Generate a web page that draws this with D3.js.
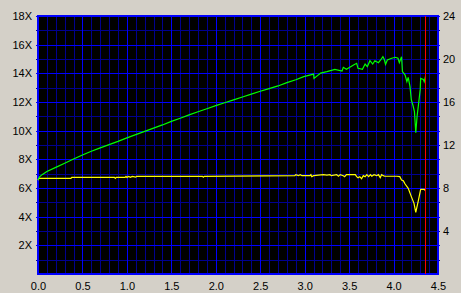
<!DOCTYPE html>
<html>
<head>
<meta charset="utf-8">
<script src="https://cdn.jsdelivr.net/npm/d3@7/dist/d3.min.js"></script>
<style>
  body { margin: 0; background: #d4d0c8; }
  svg { display: block; }
  .lbl text { font-family: "Liberation Sans", Arial, sans-serif; font-size: 11px; fill: #000; }
</style>
</head>
<body>
<div id="chart"></div>
<script>
// transfer speed (green), position in GB
var speedPos = [0, 0.02, 0.05, 0.1, 0.2, 0.3, 0.4, 0.5, 0.6, 0.7, 0.8, 0.9, 1.0, 1.1, 1.2, 1.3, 1.4,
  1.5, 1.6, 1.7, 1.8, 1.9, 2.0, 2.1, 2.2, 2.3, 2.4, 2.5, 2.6, 2.7, 2.8, 2.9, 2.99, 3.10, 3.105,
  3.18, 3.25, 3.34, 3.42, 3.435, 3.47, 3.55, 3.585, 3.60, 3.65, 3.68, 3.705, 3.735, 3.765, 3.79,
  3.83, 3.855, 3.88, 3.895, 3.91, 3.93, 3.98, 4.02, 4.05, 4.065, 4.09, 4.10, 4.13, 4.15, 4.165,
  4.185, 4.20, 4.22, 4.235, 4.25, 4.265, 4.28, 4.30, 4.305, 4.335, 4.345, 4.36];
var speed = [6.56, 6.8, 6.95, 7.15, 7.44, 7.73, 8.02, 8.3, 8.56, 8.8, 9.03, 9.25, 9.5, 9.72, 9.95, 10.18, 10.4,
  10.65, 10.87, 11.1, 11.32, 11.53, 11.75, 11.95, 12.15, 12.35, 12.55, 12.75, 12.93, 13.12, 13.35, 13.55, 13.77, 13.95, 13.65,
  14.02, 14.12, 14.28, 14.16, 14.42, 14.28, 14.58, 14.7, 14.35, 14.28, 14.65, 14.47, 14.88, 14.65, 14.88,
  14.74, 14.93, 15.16, 14.98, 14.63, 14.93, 15.05, 15.12, 15.05, 14.74, 15.16, 14.12, 13.88, 13.42, 13.72,
  13.07, 12.14, 11.72, 11.33, 9.86, 11.02, 11.79, 12.88, 13.65, 13.58, 13.42, 13.81];

// second trace (yellow)
var trace2Pos = [0, 0.01, 0.37, 0.38, 0.86, 0.87, 0.88, 0.98, 0.99, 1.0, 1.02, 1.04, 1.06, 1.1, 1.11,
  1.85, 1.86, 1.87, 2.89, 2.9, 2.93, 2.95, 2.97, 3.06, 3.07, 3.08, 3.1, 3.21, 3.25, 3.285, 3.3, 3.36,
  3.38, 3.40, 3.435, 3.45, 3.47, 3.51, 3.57, 3.585, 3.6, 3.62, 3.64, 3.66, 3.68, 3.70, 3.72, 3.74,
  3.755, 3.78, 3.81, 3.83, 3.85, 3.865, 3.885, 3.90, 4.035, 4.07, 4.09, 4.11, 4.13, 4.165, 4.20,
  4.23, 4.25, 4.28, 4.305, 4.345, 4.36];
var trace2 = [6.55, 6.67, 6.67, 6.74, 6.74, 6.67, 6.74, 6.74, 6.81, 6.74, 6.81, 6.74, 6.81, 6.76, 6.81,
  6.81, 6.76, 6.81, 6.86, 6.93, 6.86, 6.93, 6.86, 6.86, 6.93, 6.79, 6.86, 6.93, 6.9, 6.93, 6.86, 6.93,
  6.82, 6.93, 6.86, 6.79, 6.93, 6.93, 6.93, 6.79, 6.72, 6.79, 6.65, 6.86, 6.79, 6.93, 6.79, 6.93,
  6.82, 6.93, 6.86, 6.93, 6.72, 6.93, 6.86, 6.82, 6.82, 6.79, 6.56, 6.5, 6.28, 5.98, 5.4,
  4.93, 4.3, 5.16, 5.91, 5.91, 5.81];

var endMark = 4.357;

var xTicks = [0, 0.5, 1.0, 1.5, 2.0, 2.5, 3.0, 3.5, 4.0, 4.5];
var xMinor = [0.1, 0.2, 0.3, 0.4, 0.6, 0.7, 0.8, 0.9, 1.1, 1.2, 1.3, 1.4, 1.6, 1.7, 1.8, 1.9,
  2.1, 2.2, 2.3, 2.4, 2.6, 2.7, 2.8, 2.9, 3.1, 3.2, 3.3, 3.4, 3.6, 3.7, 3.8, 3.9, 4.1, 4.2, 4.3, 4.4];
var yTicks = [2, 4, 6, 8, 10, 12, 14, 16, 18];
var yMinor = [1, 3, 5, 7, 9, 11, 13, 15, 17];
var yRightTicks = [4, 8, 12, 16, 20, 24];

var margin = {top: 16, right: 23, bottom: 19, left: 38},
    width = 400,
    height = 258;

var x = d3.scaleLinear().domain([0, 4.5]).range([0, width]);
var y = d3.scaleLinear().domain([0, 18]).range([height, 0]);
var y2 = d3.scaleLinear().domain([0, 24]).range([height, 0]);

var svg = d3.select("#chart").append("svg")
    .attr("width", 461)
    .attr("height", 293)
  .append("g")
    .attr("transform", "translate(" + margin.left + "," + margin.top + ")");

svg.append("rect")
  .attr("width", width)
  .attr("height", height)
  .attr("fill", "#000");

// minor grid
svg.selectAll(".vminor").data(xMinor).enter().append("line")
  .attr("x1", function(d) { return Math.round(x(d)) + 0.5; })
  .attr("x2", function(d) { return Math.round(x(d)) + 0.5; })
  .attr("y1", 0).attr("y2", height)
  .attr("stroke", "#000090");
svg.selectAll(".hminor").data(yMinor).enter().append("line")
  .attr("x1", -2).attr("x2", width + 2)
  .attr("y1", function(d) { return Math.round(y(d)) + 0.5; })
  .attr("y2", function(d) { return Math.round(y(d)) + 0.5; })
  .attr("stroke", "#000090");

// major grid
svg.selectAll(".vmajor").data(xTicks).enter().append("line")
  .attr("x1", function(d) { return Math.round(x(d)) + 0.5; })
  .attr("x2", function(d) { return Math.round(x(d)) + 0.5; })
  .attr("y1", 0).attr("y2", height)
  .attr("stroke", "#0000ff");
svg.selectAll(".hmajor").data(yTicks).enter().append("line")
  .attr("x1", -2).attr("x2", width + 2)
  .attr("y1", function(d) { return Math.round(y(d)) + 0.5; })
  .attr("y2", function(d) { return Math.round(y(d)) + 0.5; })
  .attr("stroke", "#0000ff");

// frame
svg.append("rect")
  .attr("x", 0).attr("y", 0)
  .attr("width", width).attr("height", height)
  .attr("fill", "none")
  .attr("stroke", "#0000ff")
  .attr("stroke-width", 2);

var line = d3.line()
  .x(function(d) { return x(d[0]); })
  .y(function(d) { return y(d[1]); });

svg.append("path")
  .datum(trace2Pos.map(function(p, i) { return [p, trace2[i]]; }))
  .attr("d", line)
  .attr("fill", "none")
  .attr("stroke", "#ffff00")
  .attr("stroke-width", 1.2);

svg.append("path")
  .datum(speedPos.map(function(p, i) { return [p, speed[i]]; }))
  .attr("d", line)
  .attr("fill", "none")
  .attr("stroke", "#00ff00")
  .attr("stroke-width", 1.2);

// end of disc
svg.append("line")
  .attr("x1", Math.round(x(endMark)) + 0.5)
  .attr("x2", Math.round(x(endMark)) + 0.5)
  .attr("y1", 0).attr("y2", height)
  .attr("stroke", "#ff0000");

// tick labels
svg.append("g").attr("class", "lbl")
  .call(d3.axisLeft(y).tickValues(yTicks).tickSize(0).tickPadding(6)
    .tickFormat(function(d) { return d + "X"; }))
  .call(function(g) { g.select(".domain").remove(); });

svg.append("g").attr("class", "lbl")
  .attr("transform", "translate(" + width + ",0)")
  .call(d3.axisRight(y2).tickValues(yRightTicks).tickSize(0).tickPadding(5))
  .call(function(g) { g.select(".domain").remove(); });

svg.append("g").attr("class", "lbl")
  .attr("transform", "translate(0," + height + ")")
  .call(d3.axisBottom(x).tickValues(xTicks).tickSize(0).tickPadding(8)
    .tickFormat(d3.format(".1f")))
  .call(function(g) { g.select(".domain").remove(); });
</script>
</body>
</html>
